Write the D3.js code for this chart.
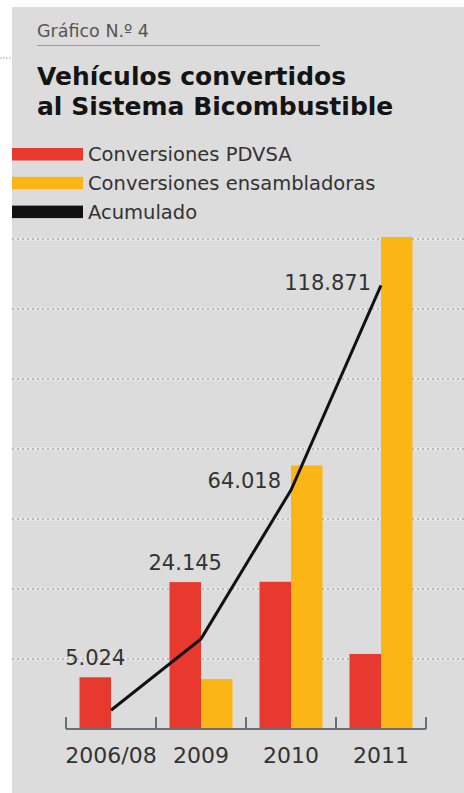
<!DOCTYPE html>
<html>
<head>
<meta charset="utf-8">
<script src="https://cdn.jsdelivr.net/npm/d3@7"></script>
<style>
  body { margin: 0; background: #fff; }
  svg { display: block; font-family: "DejaVu Sans", sans-serif; }
</style>
</head>
<body>
<svg id="chart" width="464" height="793"></svg>
<script>
// data
var years = ['2006/08', '2009', '2010', '2011']
var pdvsa = [5024, 14270, 14300, 7290]          // red bars (yearly)
var ensambladoras = [0, 4850, 25600, 47800]     // yellow bars (yearly)
var acumulado = [5024, 24145, 64018, 118871]    // black line
var acumLabels = ['5.024', '24.145', '64.018', '118.871']
var legendNames = ['Conversiones PDVSA', 'Conversiones ensambladoras', 'Acumulado']

var colors = {red: '#e8392e', yellow: '#fbb515', black: '#111'}

var svg = d3.select('#chart')

// grey panel
svg.append('rect')
    .attr('x', 12).attr('y', 7)
    .attr('width', 452).attr('height', 786)
    .attr('fill', '#dcdcdc')

// stray dotted bit outside the panel
svg.append('line')
    .attr('x1', 0).attr('x2', 12).attr('y1', 58).attr('y2', 58)
    .attr('stroke', '#999').attr('stroke-dasharray', '1.5,1.5')

/*
    --------------------------------------
    Header
*/
svg.append('text')
    .attr('x', 37).attr('y', 37)
    .style('font-size', '17.5px')
    .attr('fill', '#555')
    .text('Gráfico N.º 4')

svg.append('line')
    .attr('x1', 37).attr('x2', 320).attr('y1', 45.5).attr('y2', 45.5)
    .attr('stroke', '#9a9a9a').attr('stroke-width', 1)

var title = svg.append('text')
    .attr('x', 37)
    .style('font-size', '25px')
    .style('font-weight', 'bold')
    .attr('fill', '#141414')
title.append('tspan').attr('x', 37).attr('y', 85).text('Vehículos convertidos')
title.append('tspan').attr('x', 37).attr('y', 115).text('al Sistema Bicombustible')

/*
    --------------------------------------
    Legend
*/
var legendColors = [colors.red, colors.yellow, colors.black]
var legend = svg.selectAll('.legend')
    .data(legendNames)
    .enter().append('g')
    .attr('class', 'legend')
    .attr('transform', (d, i) => `translate(12,${148 + i * 28.8})`)

legend.append('rect')
    .attr('width', 71).attr('height', 12.5)
    .attr('fill', (d, i) => legendColors[i])

legend.append('text')
    .attr('x', 76).attr('y', 13)
    .style('font-size', '19.5px')
    .attr('fill', '#333')
    .text(d => d)

/*
    --------------------------------------
    Scales
*/
var base = 729
var plotTop = 239
var gridRows = 7

var x = d3.scaleBand()
    .domain(years)
    .range([66, 426])

var pairW = 63
var barW = pairW / 2

var yBar = d3.scaleLinear()
    .domain([0, 47600])
    .range([base, plotTop])

var yLine = d3.scaleLinear()
    .domain([0, 131300])
    .range([base, plotTop])

var yGrid = d3.scaleLinear()
    .domain([0, gridRows])
    .range([base, plotTop])

/*
    --------------------------------------
    Gridlines
*/
svg.append('g').selectAll('line')
    .data(d3.range(1, gridRows + 1))
    .enter().append('line')
    .attr('x1', 12).attr('x2', 464)
    .attr('y1', d => yGrid(d)).attr('y2', d => yGrid(d))
    .attr('stroke', '#e8e8e8').attr('stroke-width', 3)

svg.append('g').selectAll('line')
    .data(d3.range(1, gridRows + 1))
    .enter().append('line')
    .attr('x1', 12).attr('x2', 464)
    .attr('y1', d => yGrid(d)).attr('y2', d => yGrid(d))
    .attr('stroke', '#a9a9a9').attr('stroke-width', 1.3)
    .attr('stroke-dasharray', '2,3')

/*
    --------------------------------------
    Bars
*/
function pairX (d) {
  return x(d) + (x.bandwidth() - pairW) / 2
}

svg.append('g').selectAll('rect')
    .data(years)
    .enter().append('rect')
    .attr('x', d => pairX(d))
    .attr('y', (d, i) => yBar(pdvsa[i]))
    .attr('width', barW)
    .attr('height', (d, i) => base - yBar(pdvsa[i]))
    .attr('fill', colors.red)

svg.append('g').selectAll('rect')
    .data(years)
    .enter().append('rect')
    .attr('x', d => pairX(d) + barW)
    .attr('y', (d, i) => yBar(ensambladoras[i]))
    .attr('width', barW)
    .attr('height', (d, i) => base - yBar(ensambladoras[i]))
    .attr('fill', colors.yellow)

/*
    --------------------------------------
    Axis
*/
var axis = svg.append('g')
    .attr('stroke', '#6b6f76')
    .attr('stroke-width', 2)
    .attr('fill', 'none')

axis.append('line')
    .attr('x1', x.range()[0]).attr('x2', x.range()[1])
    .attr('y1', base).attr('y2', base)

axis.selectAll('.tick')
    .data(years.map(d => x(d)).concat([x.range()[1]]))
    .enter().append('line')
    .attr('x1', d => d).attr('x2', d => d)
    .attr('y1', base).attr('y2', base - 12)

svg.append('g').selectAll('text')
    .data(years)
    .enter().append('text')
    .attr('x', d => x(d) + x.bandwidth() / 2)
    .attr('y', 763)
    .attr('text-anchor', 'middle')
    .style('font-size', '22px')
    .attr('fill', '#333')
    .text(d => d)

/*
    --------------------------------------
    Accumulated line
*/
var line = d3.line()
    .x((d, i) => x(years[i]) + x.bandwidth() / 2)
    .y(d => yLine(d))

svg.append('path')
    .attr('d', line(acumulado))
    .attr('fill', 'none')
    .attr('stroke', colors.black)
    .attr('stroke-width', 3)

svg.append('g').selectAll('text')
    .data(acumLabels)
    .enter().append('text')
    .attr('x', (d, i) => i < 2
      ? pairX(years[i]) + barW / 2
      : x(years[i]) + x.bandwidth() / 2 - 10)
    .attr('y', (d, i) => i < 2
      ? yBar(pdvsa[i]) - 12
      : yLine(acumulado[i]) + (i === 3 ? 5 : -2))
    .attr('text-anchor', (d, i) => i < 2 ? 'middle' : 'end')
    .style('font-size', '21px')
    .attr('fill', '#333')
    .text(d => d)
</script>
</body>
</html>
